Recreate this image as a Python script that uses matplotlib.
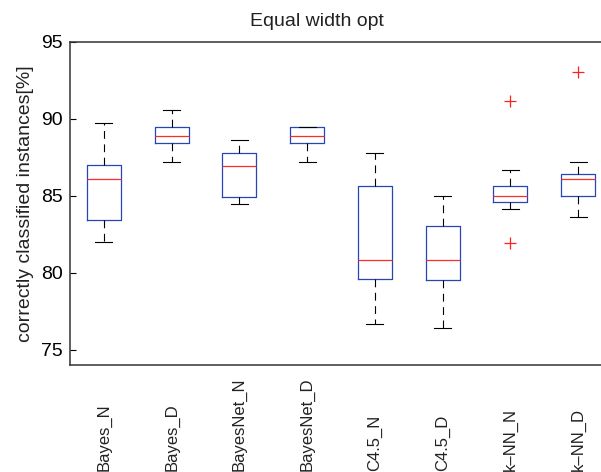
import matplotlib
matplotlib.use('Agg')
import matplotlib.pyplot as plt
from matplotlib.transforms import blended_transform_factory

plt.rcParams['font.family'] = ['Liberation Sans', 'DejaVu Sans']

# data
labels = ['Bayes_N', 'Bayes_D', 'BayesNet_N', 'BayesNet_D',
          'C4.5_N', 'C4.5_D', 'k\u2013NN_N', 'k\u2013NN_D']
whis_hi = [89.72, 90.56, 88.64, 89.46, 87.79, 85.02, 86.69, 87.21]
q3 = [87.01, 89.46, 87.77, 89.46, 85.65, 83.05, 85.65, 86.41]
medians = [86.12, 88.90, 86.95, 88.90, 80.84, 80.84, 85.02, 86.12]
q1 = [83.40, 88.42, 84.94, 88.42, 79.61, 79.52, 84.59, 85.02]
whis_lo = [81.97, 87.23, 84.44, 87.23, 76.64, 76.38, 84.16, 83.62]
outliers = [[], [], [], [], [], [], [91.15, 81.93], [93.07]]

stats = []
for i in range(len(labels)):
    stats.append({'med': medians[i], 'q1': q1[i], 'q3': q3[i],
                  'whislo': whis_lo[i], 'whishi': whis_hi[i],
                  'fliers': outliers[i], 'label': labels[i]})

fig = plt.figure(figsize=(6.01, 4.72), dpi=100, facecolor='white')
ax = fig.add_axes([70 / 601, 1 - 365 / 472, (612 - 70) / 601, (365 - 42) / 472])

ax.bxp(stats, positions=range(1, len(labels) + 1), widths=0.5,
       capwidths=0.25, showfliers=True,
       boxprops={'color': '#2845b5', 'linewidth': 0.9},
       medianprops={'color': '#ff2a2a', 'linewidth': 0.9},
       whiskerprops={'color': 'black', 'linewidth': 0.8, 'linestyle': (0, (7, 5))},
       capprops={'color': 'black', 'linewidth': 0.8},
       flierprops={'marker': '+', 'markeredgecolor': '#ff2020',
                   'markersize': 8, 'markeredgewidth': 0.9, 'linestyle': 'none'})

ax.set_xlim(0.5, len(labels) + 0.5)
ax.set_ylim(74.0, 95)
ax.set_yticks([75, 80, 85, 90, 95])
ax.tick_params(axis='y', direction='in', length=4, labelsize=14, width=0.8, pad=5)
ax.set_xticks([])
for sp in ax.spines.values():
    sp.set_linewidth(1.1)
    sp.set_color('#333333')

# rotated category labels, bottom aligned like the original
trans = blended_transform_factory(ax.transData, fig.transFigure)
for i, lab in enumerate(labels):
    ax.text(i + 1, 1 - 471 / 472, lab, transform=trans, rotation=90,
            ha='center', va='bottom', fontsize=12, color='#222222')

fig.text(26 / 601, 1 - 204 / 472, 'correctly classified instances[%]',
         rotation=90, ha='center', va='center', fontsize=14, color='#222222')
fig.text(317 / 601, 1 - 26 / 472, 'Equal width opt', ha='center',
         va='baseline', fontsize=14, color='#222222')

fig.savefig('out.png', dpi=100, facecolor='white')
